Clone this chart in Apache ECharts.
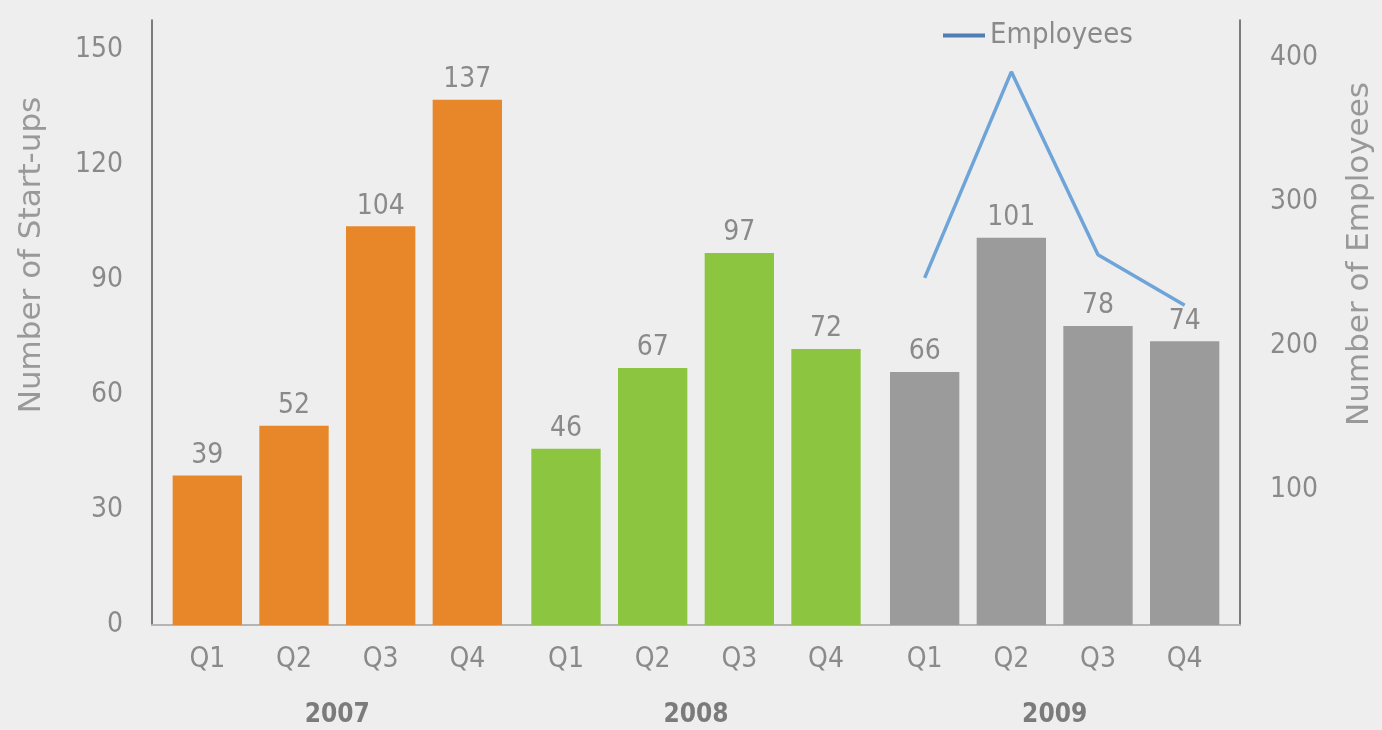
<!DOCTYPE html>
<html>
<head>
<meta charset="utf-8">
<script src="https://cdn.jsdelivr.net/npm/echarts@6/dist/echarts.min.js"></script>
<style>
  html, body { margin: 0; padding: 0; background: #eeeeee; }
  #chart { width: 1382px; height: 730px; }
</style>
</head>
<body>
<div id="chart"></div>
<script>
// Quarterly start-up counts per year, with employee numbers for 2009
const years = ['2007', '2008', '2009'];
const quarters = ['Q1', 'Q2', 'Q3', 'Q4'];
const startups2007 = [39, 52, 104, 137];
const startups2008 = [46, 67, 97, 72];
const startups2009 = [66, 101, 78, 74];
const employees2009 = [247, 390, 263, 228];
const startupTicks = [0, 30, 60, 90, 120, 150];
const employeeTicks = [100, 200, 300, 400];

const yearColors = ['#e8872a', '#8cc640', '#9b9b9b'];
const yearValues = [startups2007, startups2008, startups2009];

const numFont = "'Liberation Sans Narrow', 'DejaVu Sans Condensed', sans-serif";
const titleFont = "'DejaVu Sans', sans-serif";
const textGray = '#8a8a8a';

// Plot frame: the outer axes span 152..1240, year groups sit inside with gaps
const X0 = 152, X1 = 1240, GAP = 12, TOP = 20, BOTTOM = 105;
const groupW = (X1 - X0 - 4 * GAP) / 3;
const startupRange = { min: 0, max: 157.8 };
const employeeRange = { min: 6, max: 426 };

const grids = [{ left: X0, width: X1 - X0, top: TOP, bottom: BOTTOM }];
years.forEach((y, i) => {
  grids.push({ left: X0 + GAP + i * (groupW + GAP), width: groupW, top: TOP, bottom: BOTTOM });
});

const xAxes = [{
  gridIndex: 0, type: 'value', min: 0, max: 1,
  axisLine: { show: true, onZero: false, lineStyle: { color: '#b4b4b4', width: 2 } },
  axisTick: { show: false }, axisLabel: { show: false }, splitLine: { show: false }
}];
years.forEach((y, i) => {
  xAxes.push({
    gridIndex: i + 1, type: 'category', data: quarters,
    axisLine: { show: false }, axisTick: { show: false }, splitLine: { show: false },
    axisLabel: { color: textGray, fontFamily: numFont, fontSize: 28, margin: 21 }
  });
});
years.forEach((y, i) => {
  xAxes.push({
    gridIndex: i + 1, type: 'category', data: [y], position: 'bottom', offset: 68,
    axisLine: { show: false }, axisTick: { show: false }, splitLine: { show: false },
    axisLabel: { color: '#7b7b7b', fontFamily: numFont, fontWeight: 'bold', fontSize: 26, margin: 9 }
  });
});

const hiddenY = (gridIndex, range) => ({
  gridIndex, type: 'value', min: range.min, max: range.max, show: false,
  axisLine: { onZero: false }, splitLine: { show: false }
});

const yAxes = [
  {
    gridIndex: 0, type: 'value', position: 'left', min: startupRange.min, max: startupRange.max,
    axisLine: { show: true, onZero: false, lineStyle: { color: '#555555', width: 1.5 } },
    axisTick: { show: false }, splitLine: { show: false },
    axisLabel: { customValues: startupTicks, color: textGray, fontFamily: numFont, fontSize: 28, margin: 29 }
  },
  {
    gridIndex: 0, type: 'value', position: 'right', min: employeeRange.min, max: employeeRange.max,
    axisLine: { show: true, onZero: false, lineStyle: { color: '#555555', width: 1.5 } },
    axisTick: { show: false }, splitLine: { show: false },
    axisLabel: { customValues: employeeTicks, color: textGray, fontFamily: numFont, fontSize: 28, margin: 30 }
  },
  hiddenY(1, startupRange),
  hiddenY(2, startupRange),
  hiddenY(3, startupRange),
  hiddenY(3, employeeRange)
];

const series = years.map((y, i) => ({
  name: y, type: 'bar', xAxisIndex: i + 1, yAxisIndex: i + 2,
  data: yearValues[i], barWidth: '80%',
  itemStyle: { color: yearColors[i] },
  label: { show: true, position: 'top', distance: 6, color: textGray, fontFamily: numFont, fontSize: 28 }
}));
series.push({
  name: 'Employees', type: 'line', xAxisIndex: 3, yAxisIndex: 5,
  data: employees2009, symbol: 'none',
  lineStyle: { color: '#6fa4d9', width: 3.5 }, itemStyle: { color: '#6fa4d9' }
});

const chart = echarts.init(document.getElementById('chart'), null, { renderer: 'canvas' });
chart.setOption({
  backgroundColor: '#eeeeee',
  animation: false,
  grid: grids,
  xAxis: xAxes,
  yAxis: yAxes,
  legend: {
    data: [{ name: 'Employees', icon: 'rect', itemStyle: { color: '#4f7db5' } }],
    left: 938, top: 16, itemWidth: 42, itemHeight: 4, itemGap: 6,
    textStyle: { color: textGray, fontFamily: numFont, fontSize: 29 }
  },
  graphic: [
    {
      type: 'text', x: 32, y: 255, rotation: Math.PI / 2,
      style: { text: 'Number of Start-ups', fill: '#999999', font: "31px " + titleFont, align: 'center', verticalAlign: 'middle' }
    },
    {
      type: 'text', x: 1360, y: 254, rotation: Math.PI / 2,
      style: { text: 'Number of Employees', fill: '#999999', font: "31px " + titleFont, align: 'center', verticalAlign: 'middle' }
    }
  ],
  series
});
</script>
</body>
</html>
